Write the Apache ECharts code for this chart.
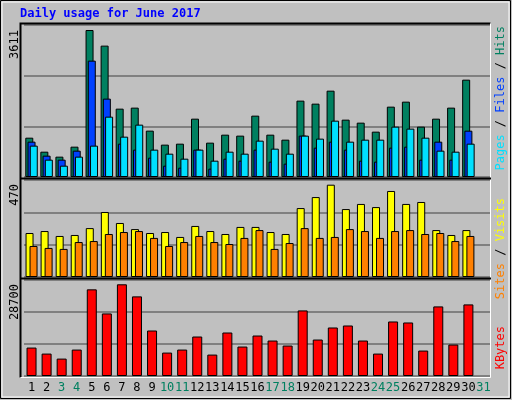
<!DOCTYPE html>
<html>
<head>
<meta charset="utf-8">
<script src="https://cdn.jsdelivr.net/npm/echarts@6/dist/echarts.min.js"></script>
<style>
  html, body { margin: 0; padding: 0; background: #c0c0c0; }
  #chart { width: 512px; height: 400px; }
</style>
</head>
<body>
<div id="chart"></div>
<script>
// Daily usage, June 2017
const days = [];
for (let d = 1; d <= 31; d++) days.push(String(d));
const weekendDays = ['3', '4', '10', '11', '17', '18', '24', '25', '31'];

const hits  = [966, 622, 500, 745, 3611, 3227, 1679, 1704, 1139, 795, 819, 1433, 844, 1040, 1016, 1507,
               1040, 917, 1876, 1802, 2121, 1409, 1335, 1114, 1728, 1851, 1237, 1433, 1704, 2391, null];
const files = [868, 524, 426, 647, 2858, 1925, 819, 672, 475, 278, 229, 672, 205, 450, 401, 672,
               377, 328, 1016, 721, 868, 672, 401, 377, 721, 745, 426, 868, 426, 1138, null];
const pages = [770, 426, 278, 500, 770, 1482, 991, 1286, 672, 573, 450, 672, 401, 622, 573, 893,
               696, 573, 1016, 942, 1384, 868, 917, 917, 1237, 1188, 966, 647, 622, 819, null];
const visits = [224, 234, 209, 214, 249, 331, 275, 244, 224, 229, 204, 260, 234, 219, 255, 255,
                229, 219, 351, 407, 470, 346, 372, 356, 438, 372, 382, 239, 214, 239, null];
const sites  = [158, 148, 143, 178, 183, 219, 229, 234, 199, 158, 178, 209, 178, 168, 199, 239,
                143, 173, 249, 199, 204, 244, 234, 199, 234, 239, 219, 224, 183, 209, null];
const kbytes = [8900, 7015, 5445, 8271, 27117, 19579, 28700, 24919, 14239, 7329, 8271, 12355, 6701, 13611, 9214, 12669,
                11099, 9528, 20521, 11413, 15182, 15810, 11099, 7015, 17066, 16752, 7957, 21778, 9842, 22406, null];

const maxHits = 3611, maxVisits = 470, maxKbytes = 28700;

const C = {
  hits: '#008060', files: '#0040ff', pages: '#00e0ff',
  visits: '#ffff00', sites: '#ff8000', kbytes: '#ff0000'
};
const mono = 'DejaVu Sans Mono';

const panels = [
  { top: 25, height: 152, max: maxHits * 152 / 147 },
  { top: 180, height: 97, max: maxVisits * 97 / 92.3 },
  { top: 280, height: 96, max: maxKbytes * 96 / 91.7 }
];

const grids = panels.map(p => ({ left: 24, right: 21, top: p.top, height: p.height }));

const xAxes = panels.map((p, i) => ({
  type: 'category', gridIndex: i, data: days,
  axisLine: { show: false }, axisTick: { show: false },
  axisLabel: i === 2 ? {
    show: true, interval: 0, fontFamily: mono, fontSize: 12, margin: 6,
    color: v => weekendDays.includes(v) ? '#008060' : '#000'
  } : { show: false }
}));

const yAxes = panels.map((p, i) => ({
  type: 'value', gridIndex: i, min: 0, max: p.max, interval: p.max / 3,
  axisLine: { show: false }, axisTick: { show: false }, axisLabel: { show: false },
  splitLine: { lineStyle: { color: '#808080', width: 2 } }
}));

function bar(name, data, color, idx, width, gap) {
  return {
    name, type: 'bar', data, xAxisIndex: idx, yAxisIndex: idx,
    barWidth: width, barGap: gap, animation: false,
    itemStyle: { color, borderColor: '#000', borderWidth: 1 }
  };
}

const series = [
  bar('Hits', hits, C.hits, 0, 8, '-72%'),
  bar('Files', files, C.files, 0, 8, '-72%'),
  bar('Pages', pages, C.pages, 0, 8, '-72%'),
  bar('Visits', visits, C.visits, 1, 8, '-50%'),
  bar('Sites', sites, C.sites, 1, 8, '-50%'),
  bar('KBytes', kbytes, C.kbytes, 2, 10, '0%')
];

// frames, side labels, max labels
const graphic = [
  { type: 'rect', shape: { x: 0.5, y: 0.5, width: 510, height: 398 }, style: { fill: null, stroke: '#000', lineWidth: 1 }, z: -10 },
  { type: 'rect', shape: { x: 2, y: 2, width: 507, height: 395 }, style: { fill: null, stroke: '#fff', lineWidth: 1 }, z: -10 },
  { type: 'rect', shape: { x: 20.5, y: 23.5, width: 470, height: 354 }, style: { fill: '#c0c0c0', stroke: null }, z: -9 },
  { type: 'polyline', shape: { points: [[20.5, 377.5], [20.5, 23.5], [490.5, 23.5]] }, style: { stroke: '#000', lineWidth: 2, fill: null }, z: 10 },
  { type: 'polyline', shape: { points: [[490.5, 23.5], [490.5, 377.5], [20.5, 377.5]] }, style: { stroke: '#fff', lineWidth: 1, fill: null }, z: 10 },
  { type: 'line', shape: { x1: 20, y1: 178.5, x2: 491, y2: 178.5 }, style: { stroke: '#000', lineWidth: 2 }, z: 10 },
  { type: 'line', shape: { x1: 20, y1: 278.5, x2: 491, y2: 278.5 }, style: { stroke: '#000', lineWidth: 2 }, z: 10 },
  { type: 'text', left: 20, top: 8, style: { text: 'Daily usage for June 2017', fill: '#0000ff', font: 'bold 12px ' + mono } }
];

const maxLabels = [['3611', 30], ['470', 184], ['28700', 284]];
maxLabels.forEach(([t, y]) => {
  graphic.push({
    type: 'text', x: 9, y: y, rotation: Math.PI / 2,
    style: { text: t, fill: '#000', font: '12px ' + mono, align: 'right', verticalAlign: 'top' }
  });
});

function sideLabel(parts, y) {
  graphic.push({
    type: 'text', x: 507, y: y, rotation: Math.PI / 2,
    style: {
      text: parts.map((p, i) => '{s' + i + '|' + p[0] + '}').join(''),
      rich: Object.fromEntries(parts.map((p, i) => ['s' + i, { fill: p[1], font: '12px ' + mono }])),
      align: 'right', verticalAlign: 'bottom'
    }
  });
}
sideLabel([['Pages', C.pages], [' / ', '#000'], ['Files', C.files], [' / ', '#000'], ['Hits', C.hits]], 26);
sideLabel([['Sites', C.sites], [' / ', '#000'], ['Visits', C.visits]], 198);
sideLabel([['KBytes', C.kbytes]], 326);

const chart = echarts.init(document.getElementById('chart'));
chart.setOption({
  backgroundColor: '#c0c0c0',
  animation: false,
  grid: grids,
  xAxis: xAxes,
  yAxis: yAxes,
  series: series,
  graphic: graphic
});
</script>
</body>
</html>
